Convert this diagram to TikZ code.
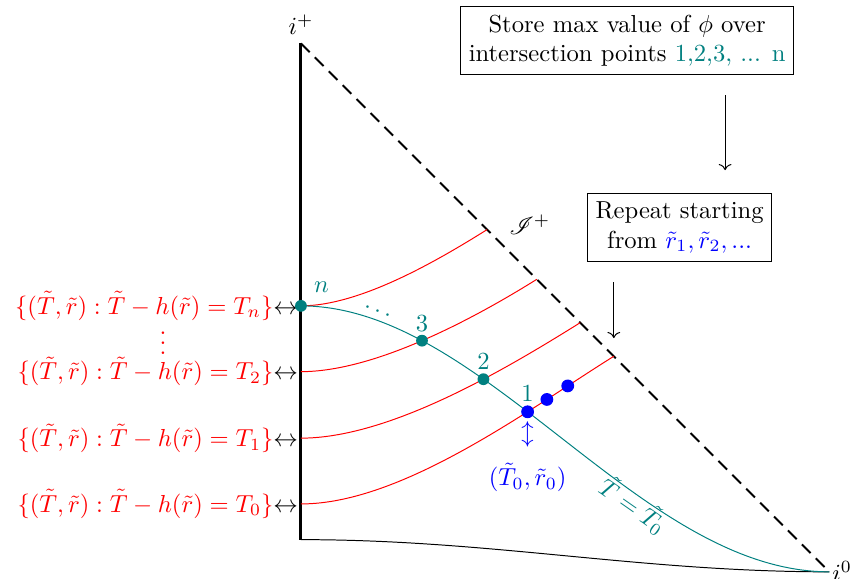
\documentclass[tikz,border=0pt]{standalone}
\usepackage{amsmath,amssymb}
\usepackage{mathrsfs}
\usetikzlibrary{arrows.meta,positioning,calc,intersections}

\begin{document}
\begin{tikzpicture}[
    tdot/.style={circle, fill=teal, inner sep=0pt, minimum size=4.8pt},
    bdot/.style={circle, fill=blue, inner sep=0pt, minimum size=5.2pt},
    infobox/.style={draw, align=center, fill=white},
    arr/.style={->}
]
\useasboundingbox (-4.3,-0.1) rectangle (7.93,8.17);
\coordinate (iplus) at (0,7.55);
\coordinate (izero) at (7.55,0);
\coordinate (base) at (0,0.46);

\draw[very thick] (base) -- (iplus);
\draw[thick, dash pattern=on 5pt off 3pt] (iplus) -- (izero);
\draw (base) .. controls (2.72,0.46) and (4.83,0) .. (izero);

\node[above] (lip) at (iplus) {$i^+$};
\node[right, inner sep=1pt] (liz) at (izero) {$i^0$};
\node (lscri) at (3.27,4.96) {$\mathscr{I}^+$};

\foreach \y/\x/\k in {0.97/4.47/0, 1.91/3.99/1, 2.86/3.37/2, 3.80/2.66/n}{
    \coordinate (st\k) at (0,\y);
    \coordinate (en\k) at (\x,{7.55-\x});
    \draw[red, name path global=s\k] (st\k) to[out=0,in=-148,looseness=0.75] (en\k);
    \node[anchor=east, inner sep=1pt] (lab\k) at (st\k) {{\color{red}$\{(\tilde{T},\tilde{r}) : \tilde{T}-h(\tilde{r}) = T_{\k}\}$}$\leftrightarrow$};
}
\node[red] (vd) at (-1.97,3.37) {$\vdots$};

\draw[teal, name path=tcurve] (stn) .. controls (2.62,3.80) and (4.83,0) .. (izero);
\node[teal, rotate=-35] (lt0) at (4.75,0.95) {$\tilde{T}=\tilde{T}_0$};

\path[name intersections={of=tcurve and s0, by=x1}];
\path[name intersections={of=tcurve and s1, by=x2}];
\path[name intersections={of=tcurve and s2, by=x3}];
\path (st0) to[out=0,in=-148,looseness=0.75] coordinate[pos=0.763] (b1) coordinate[pos=0.833] (b2) (en0);

\node[tdot, label={[teal]above right:$n$}] (pn) at (stn) {};
\node[tdot, label={[teal, inner sep=1pt]above:$3$}] (p3) at (x3) {};
\node[tdot, label={[teal, inner sep=1pt]above:$2$}] (p2) at (x2) {};
\node[tdot] (p1) at (x1) {};
\node[bdot, label={[teal, inner sep=1pt]above:$1$}] (q0) at (x1) {};
\node[bdot] (q1) at (b1) {};
\node[bdot] (q2) at (b2) {};
\node[teal, rotate=-22] (dd) at (1.12,3.71) {$\cdots$};

\node[blue, inner sep=1pt, below=0pt of q0] (updn) {$\updownarrow$};
\node[blue, below=2pt of updn] (r0) {$(\tilde{T}_0,\tilde{r}_0)$};

\node[infobox] (store) at (4.66,7.59) {Store max value of $\phi$ over\\intersection points {\color{teal}1,2,3, ... n}};
\node[infobox] (rep) at (5.41,4.92) {Repeat starting\\from {\color{blue}$\tilde{r}_1,\tilde{r}_2,...$}};

\coordinate (ax) at (6.06,0);
\draw[arr, shorten <=0.29cm, shorten >=0.33cm] (store.south -| ax) -- (rep.north -| ax);
\draw[arr, shorten <=0.29cm, shorten >=0.26cm] (rep.south -| en0) -- (en0);
\end{tikzpicture}
\end{document}
